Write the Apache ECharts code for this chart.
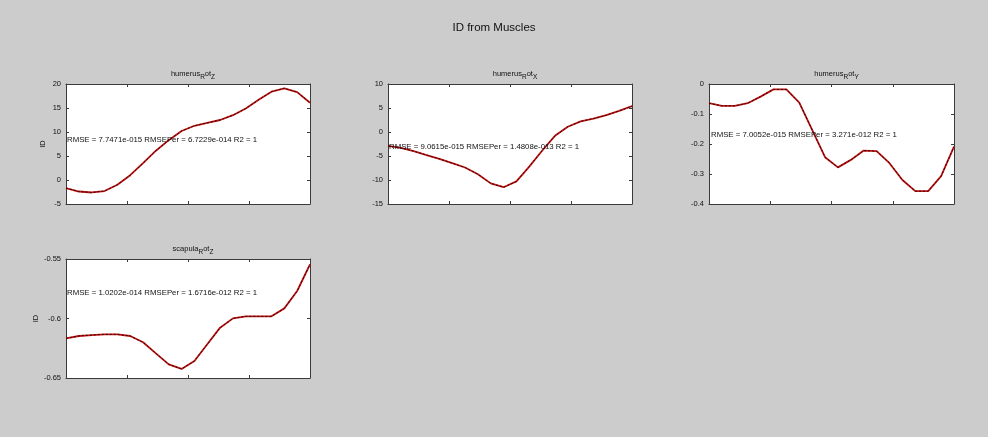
<!DOCTYPE html>
<html>
<head>
<meta charset="utf-8">
<script src="https://cdn.jsdelivr.net/npm/echarts@6/dist/echarts.min.js"></script>
<style>
html,body{margin:0;padding:0;background:#cccccc;}
#chart{width:988px;height:437px;}
</style>
</head>
<body>
<div id="chart"></div>
<script>
// ---- data ----
const mainTitle = 'ID from Muscles';
const sampleIdx = [0,1,2,3,4,5,6,7,8,9,10,11,12,13,14,15,16,17,18,19];

const humerusRotZ = [-1.7,-2.4,-2.6,-2.3,-1.0,1.0,3.5,6.1,8.3,10.2,11.3,11.9,12.5,13.5,14.9,16.7,18.4,19.1,18.3,16.1];
const humerusRotX = [-2.9,-3.3,-4.0,-4.8,-5.6,-6.5,-7.4,-8.8,-10.7,-11.5,-10.3,-7.2,-3.9,-0.8,1.1,2.2,2.8,3.5,4.4,5.4];
const humerusRotY = [-0.064,-0.073,-0.073,-0.064,-0.042,-0.018,-0.018,-0.062,-0.153,-0.244,-0.278,-0.253,-0.222,-0.224,-0.264,-0.320,-0.357,-0.357,-0.307,-0.209];
const scapulaRotZ = [-0.6167,-0.6147,-0.6139,-0.6133,-0.6133,-0.6147,-0.6200,-0.6293,-0.6385,-0.6424,-0.6357,-0.6217,-0.6077,-0.5999,-0.5982,-0.5982,-0.5982,-0.5915,-0.5769,-0.5545];

const subTitleBase = ['humerus','humerus','humerus','scapula'];
const subTitleSub1 = ['R','R','R','R'];
const subTitleMid = ['ot','ot','ot','ot'];
const subTitleSub2 = ['Z','X','Y','Z'];

const annotations = [
  'RMSE = 7.7471e-015 RMSEPer = 6.7229e-014 R2 = 1',
  'RMSE = 9.0615e-015 RMSEPer = 1.4808e-013 R2 = 1',
  'RMSE = 7.0052e-015 RMSEPer = 3.271e-012 R2 = 1',
  'RMSE = 1.0202e-014 RMSEPer = 1.6716e-012 R2 = 1'
];

const yMins = [-5,-15,-0.4,-0.65];
const yMaxs = [20,10,0,-0.55];
const yIntervals = [5,5,0.1,0.05];
const yNames = ['ID','','','ID'];

const seriesValues = [humerusRotZ, humerusRotX, humerusRotY, scapulaRotZ];

// ---- layout ----
const grids = [
  {left:66, top:84, width:244, height:120},
  {left:388, top:84, width:244, height:120},
  {left:709, top:84, width:245, height:120},
  {left:66, top:259, width:244, height:119}
];
const annotPos = [[67,141],[389,147.5],[711,136],[67,294]];

const FONT = 'Liberation Sans, Arial, sans-serif';
const axisCol = '#3a3a3a';

const chart = echarts.init(document.getElementById('chart'), null, {renderer:'canvas'});

const xAxes = [], yAxes = [], series = [], titles = [], graphics = [];

titles.push({
  text: mainTitle, left: 489, top: 17, textAlign: 'center',
  textStyle: {fontFamily: FONT, fontSize: 11.5, fontWeight: 'normal', color: '#111'}
});

grids.forEach((g, i) => {
  const commonX = {
    gridIndex: i, type: 'value', min: 0, max: 19, interval: 4.75,
    axisLine: {show: true, onZero: false, lineStyle: {color: axisCol, width: 1}},
    axisTick: {show: true, inside: true, length: 3, lineStyle: {color: axisCol}},
    axisLabel: {show: false}, splitLine: {show: false}
  };
  xAxes.push(Object.assign({position: 'bottom'}, commonX));
  xAxes.push(Object.assign({position: 'top'}, commonX));
  const commonY = {
    gridIndex: i, type: 'value', min: yMins[i], max: yMaxs[i], interval: yIntervals[i],
    axisLine: {show: true, onZero: false, lineStyle: {color: axisCol, width: 1}},
    axisTick: {show: true, inside: true, length: 3, lineStyle: {color: axisCol}},
    splitLine: {show: false}
  };
  yAxes.push(Object.assign({}, commonY, {
    position: 'left',
    name: yNames[i], nameLocation: 'middle', nameGap: 19, nameRotate: 90,
    nameTextStyle: {fontFamily: FONT, fontSize: 7.5, color: '#111'},
    axisLabel: {show: true, fontFamily: FONT, fontSize: 7.5, color: '#111', margin: 5,
      formatter: v => String(parseFloat(Number(v).toFixed(4)))}
  }));
  yAxes.push(Object.assign({}, commonY, {position: 'right', axisLabel: {show: false}}));

  const data = sampleIdx.map((x, k) => [x, seriesValues[i][k]]);
  series.push({
    type: 'line', xAxisIndex: 2*i, yAxisIndex: 2*i, data: data,
    showSymbol: false, symbol: 'none', animation: false,
    lineStyle: {color: '#c41010', width: 1.8}, z: 2
  });
  series.push({
    type: 'line', xAxisIndex: 2*i, yAxisIndex: 2*i, data: data,
    showSymbol: false, symbol: 'none', animation: false,
    lineStyle: {color: '#000', width: 0.8, type: [2, 2]}, z: 3
  });

  titles.push({
    text: `{a|${subTitleBase[i]}}{s|${subTitleSub1[i]}}{a|${subTitleMid[i]}}{s|${subTitleSub2[i]}}`,
    left: g.left + g.width/2, top: g.top - 19, textAlign: 'center',
    textStyle: {
      fontWeight: 'normal',
      rich: {
        a: {fontFamily: FONT, fontSize: 7.5, fontWeight: 'normal', color: '#111', verticalAlign: 'bottom', padding: [0,0,3,0]},
        s: {fontFamily: FONT, fontSize: 6.5, fontWeight: 'normal', color: '#111', verticalAlign: 'bottom'}
      }
    }
  });

  graphics.push({
    type: 'text', left: annotPos[i][0], top: annotPos[i][1] - 5, z: 100,
    style: {text: annotations[i], fontFamily: FONT, fontSize: 7.8, fill: '#111'}
  });
});

chart.setOption({
  backgroundColor: '#cccccc',
  animation: false,
  title: titles,
  grid: grids.map(g => Object.assign({show: true, backgroundColor: '#ffffff', borderWidth: 0}, g)),
  xAxis: xAxes,
  yAxis: yAxes,
  series: series,
  graphic: graphics
});
</script>
</body>
</html>
